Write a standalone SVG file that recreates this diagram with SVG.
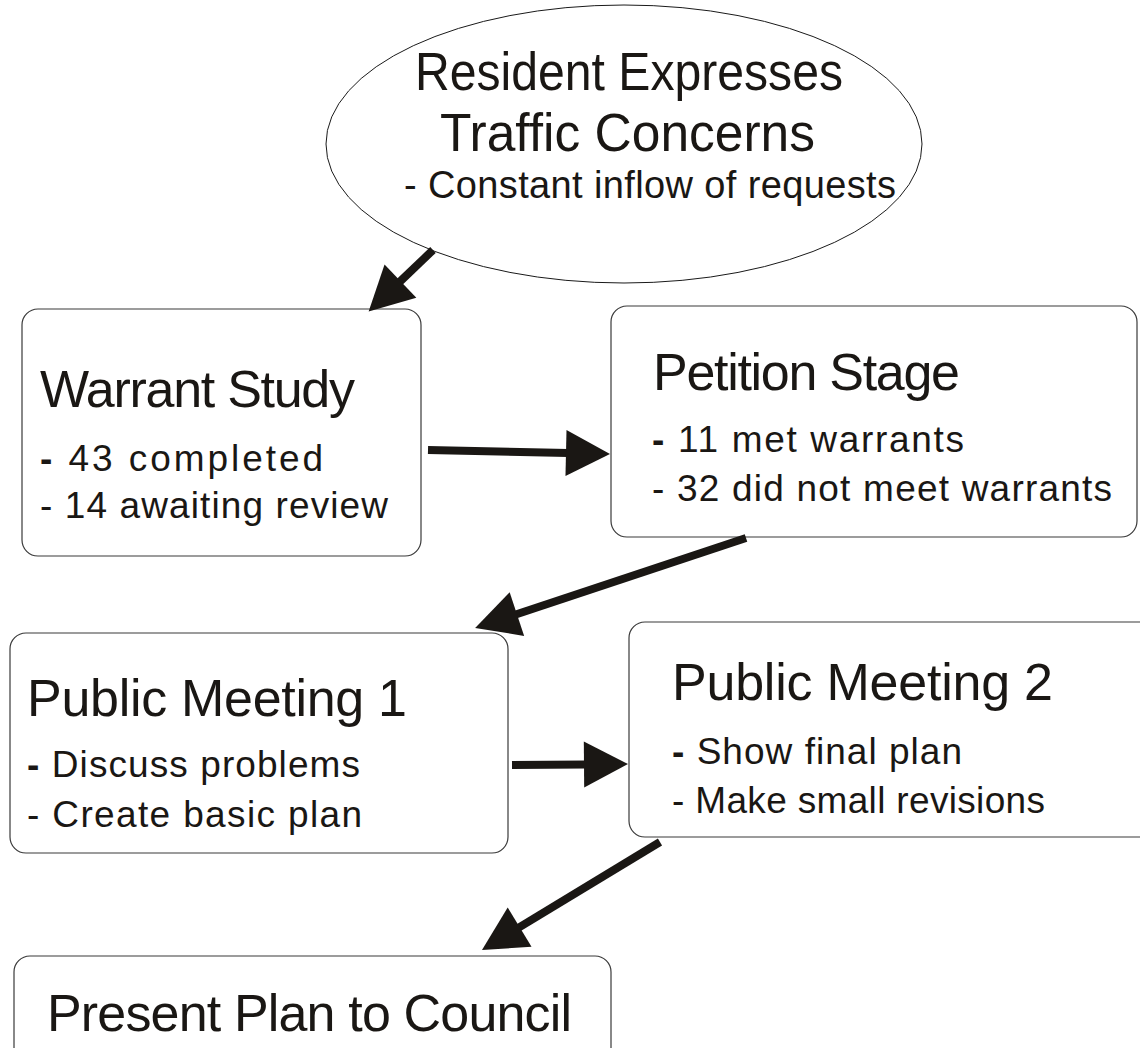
<svg xmlns="http://www.w3.org/2000/svg" width="1140" height="1048" viewBox="0 0 1140 1048">
<defs>
<style>
.bg{fill:#ffffff}
.box{fill:#ffffff;stroke:#3a3a3a;stroke-width:1.2}
.ell{fill:#ffffff;stroke:#1a1a1a;stroke-width:1}
.t{font-family:"Liberation Sans",Arial,sans-serif;fill:#1a1714}
.big{font-size:53px}
.title{font-size:52px}
.sub{font-size:37px}
.sub2{font-size:38px}
.dash{font-weight:bold}
.conn{stroke:#1a1714;stroke-width:8;fill:none;stroke-linecap:butt}
</style>
<marker id="ah" markerUnits="userSpaceOnUse" markerWidth="46" markerHeight="48" viewBox="0 0 44 48" refX="2" refY="24" orient="auto">
<path d="M0,1 L44,24 L0,47 Z" fill="#1a1714"/>
</marker>
</defs>
<rect class="bg" x="0" y="0" width="1140" height="1048"/>

<g id="node-resident">
<ellipse class="ell" cx="624" cy="144" rx="298" ry="139"/>
<text class="t big" x="415" y="90" textLength="428" lengthAdjust="spacingAndGlyphs">Resident Expresses</text>
<text class="t big" x="440" y="151" textLength="375" lengthAdjust="spacingAndGlyphs">Traffic Concerns</text>
<text class="t sub2" x="404" y="198" textLength="492">- Constant inflow of requests</text>
</g>

<g id="node-warrant">
<rect class="box" x="22" y="309" width="399" height="247" rx="16"/>
<text class="t title" x="40" y="407" textLength="315">Warrant Study</text>
<text class="t sub" x="40" y="471" textLength="283"><tspan class="dash">-</tspan> 43 completed</text>
<text class="t sub" x="40" y="518" textLength="348">- 14 awaiting review</text>
</g>

<g id="node-petition">
<rect class="box" x="611" y="306" width="526" height="231" rx="16"/>
<text class="t title" x="653" y="390" textLength="307">Petition Stage</text>
<text class="t sub" x="652" y="452" textLength="312"><tspan class="dash">-</tspan> 11 met warrants</text>
<text class="t sub" x="652" y="501" textLength="460">- 32 did not meet warrants</text>
</g>

<g id="node-pm1">
<rect class="box" x="10" y="633" width="498" height="220" rx="16"/>
<text class="t title" x="27" y="716" textLength="380">Public Meeting 1</text>
<text class="t sub" x="27" y="777" textLength="333"><tspan class="dash">-</tspan> Discuss problems</text>
<text class="t sub" x="27" y="827" textLength="335">- Create basic plan</text>
</g>

<g id="node-pm2">
<rect class="box" x="629" y="622" width="530" height="215" rx="16"/>
<text class="t title" x="672" y="700" textLength="381">Public Meeting 2</text>
<text class="t sub" x="672" y="764" textLength="290"><tspan class="dash">-</tspan> Show final plan</text>
<text class="t sub" x="672" y="813" textLength="373">- Make small revisions</text>
</g>

<g id="node-council">
<rect class="box" x="14" y="956" width="597" height="130" rx="16"/>
<text class="t title" x="47" y="1031" textLength="525">Present Plan to Council</text>
</g>

<g id="connectors">
<line class="conn" x1="433" y1="250" x2="399" y2="282.5" marker-end="url(#ah)"/>
<line class="conn" x1="428" y1="450" x2="568" y2="453.1" marker-end="url(#ah)"/>
<line class="conn" x1="746" y1="538" x2="515" y2="614.7" marker-end="url(#ah)"/>
<line class="conn" x1="512" y1="765" x2="586" y2="764.4" marker-end="url(#ah)"/>
<line class="conn" x1="660" y1="842" x2="517.9" y2="928.2" marker-end="url(#ah)"/>
</g>
</svg>
